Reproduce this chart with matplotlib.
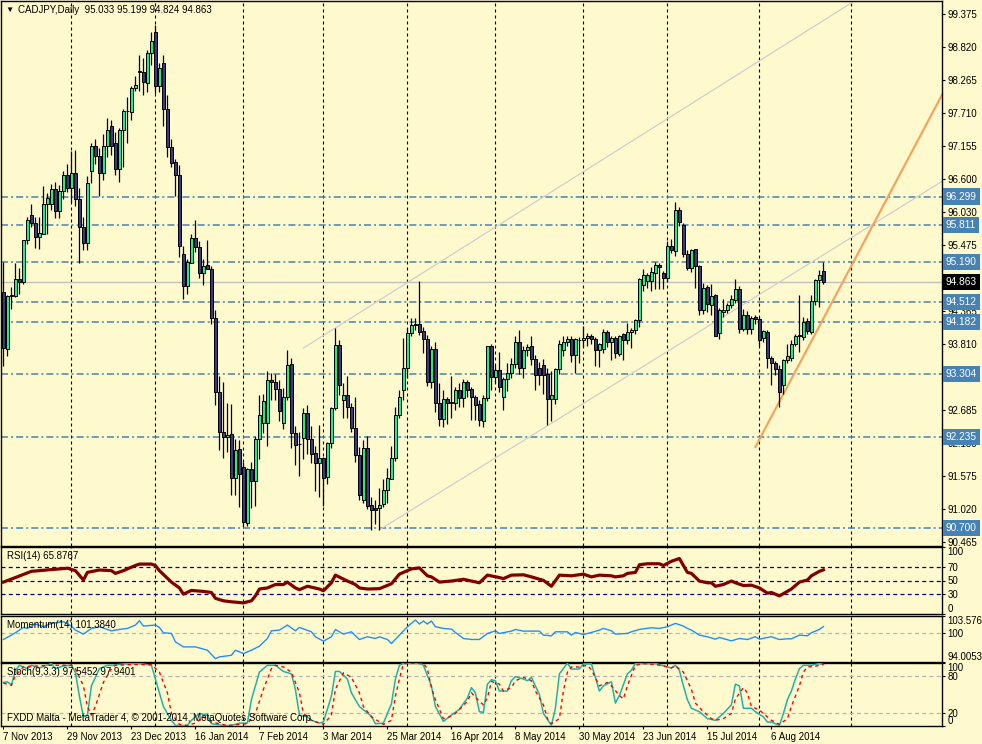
import numpy as np
import matplotlib
matplotlib.use("Agg")
import matplotlib.pyplot as plt
from matplotlib.transforms import blended_transform_factory as btf

plt.rcParams['font.family'] = ['Liberation Sans', 'DejaVu Sans']
plt.rcParams['font.size'] = 7

# ---------------- data ----------------
opens = [94.68,93.72,94.62,94.62,94.91,94.86,95.56,95.99,95.86,95.62,95.67,96.17,96.17,96.42,96.06,96.40,96.67,96.45,96.69,96.26,
         95.79,95.51,96.73,97.16,96.98,96.70,97.15,97.49,97.21,96.76,97.43,97.74,97.73,98.13,98.40,98.41,98.22,98.72,99.07,98.17,
         98.55,97.77,97.14,96.88,96.66,95.32,94.78,95.18,95.60,95.45,95.01,95.14,95.08,94.25,92.99,92.32,92.23,92.28,91.54,92.04,
         91.73,90.79,91.70,91.49,92.20,92.47,92.47,93.20,93.17,93.05,92.47,92.92,93.47,92.31,92.12,92.22,92.64,92.20,91.97,91.80,
         91.88,91.56,92.13,92.72,93.79,92.87,92.95,92.74,92.39,91.94,91.18,92.05,91.09,91.04,91.04,91.11,91.34,91.53,91.88,92.61,
         93.03,93.40,93.99,94.13,94.15,94.02,93.90,93.17,93.72,92.81,92.54,92.88,92.81,92.81,93.03,92.89,93.16,93.04,92.92,92.80,
         92.50,92.89,93.77,93.25,93.37,92.92,93.21,93.32,93.47,93.84,93.41,93.71,93.77,93.55,93.40,93.46,93.30,92.88,92.88,93.38,
         93.71,93.84,93.89,93.62,93.88,93.87,93.91,93.95,93.90,93.70,93.73,94.01,93.85,93.91,93.64,93.98,93.87,94.01,94.04,94.21,
         94.81,94.87,94.87,95.01,95.15,95.00,94.93,95.47,95.38,96.08,95.81,95.32,95.10,95.41,95.12,94.38,94.77,94.47,94.63,94.00,
         94.35,94.39,94.46,94.55,94.73,94.06,94.30,94.06,94.26,94.23,93.91,94.01,93.57,93.49,93.38,93.12,93.54,93.57,93.81,93.96,
         93.93,94.19,94.01,94.54,94.89,95.033]
highs = [95.19,94.63,94.77,95.18,95.09,95.57,95.96,96.17,95.95,95.95,96.47,96.36,96.51,96.54,96.50,96.73,96.85,97.06,97.09,96.44,
         95.96,96.64,97.21,97.27,97.12,97.36,97.62,97.60,97.39,97.46,97.77,97.98,98.17,98.33,98.69,98.64,98.78,99.08,99.20,98.55,
         98.69,98.01,97.27,96.94,96.83,95.46,95.25,95.67,95.90,95.54,95.25,95.57,95.13,94.38,93.26,93.17,92.81,92.80,92.21,92.19,
         91.81,91.72,91.81,92.25,92.95,92.97,93.36,93.31,93.30,93.20,93.06,93.71,93.57,92.42,92.33,92.72,92.78,92.42,92.08,92.44,
         91.90,92.16,92.75,94.07,93.88,93.15,93.26,92.81,92.91,92.07,92.19,92.25,91.23,91.18,91.38,91.52,91.71,92.08,92.74,93.03,
         93.91,94.07,94.24,94.24,94.87,94.10,93.96,93.78,93.85,93.15,93.03,92.92,93.26,93.09,93.15,93.21,93.20,93.09,92.95,92.86,
         92.95,93.78,93.80,93.45,93.68,93.25,93.49,93.57,93.94,94.05,93.78,93.80,93.95,93.62,93.50,93.55,93.40,93.35,93.40,93.87,
         93.95,93.95,93.95,93.91,93.92,94.12,93.99,93.98,93.93,93.82,94.06,94.05,93.94,93.94,93.96,93.99,94.17,94.08,94.23,94.93,
         95.08,95.01,95.11,95.19,95.17,95.04,95.55,95.58,96.21,96.13,95.86,95.40,95.41,95.42,95.15,94.84,94.81,94.83,94.66,94.42,
         94.56,94.50,94.63,94.90,94.79,94.40,94.36,94.28,94.30,94.26,94.05,94.04,93.60,93.52,93.45,93.55,93.80,93.88,93.98,94.64,
         94.27,94.25,94.64,94.90,95.06,95.199]
lows = [93.43,93.61,94.40,94.60,94.66,94.83,95.50,95.78,95.43,95.41,95.66,95.67,96.08,95.93,95.93,96.26,96.38,96.21,96.14,95.18,
        95.40,95.40,96.52,96.85,96.31,96.58,96.97,97.00,96.67,96.54,96.79,97.20,97.59,98.09,98.09,98.01,98.07,98.52,98.04,98.07,
        97.49,96.97,96.79,96.31,95.28,94.56,94.65,95.17,95.37,94.92,94.80,95.07,94.15,92.78,92.01,91.89,91.98,91.26,91.26,91.06,
        90.73,90.74,91.04,91.07,91.86,92.30,92.08,92.87,92.87,92.50,92.38,92.87,92.05,91.77,91.57,91.86,91.95,91.80,91.32,91.22,
        91.07,91.45,92.05,92.70,92.95,92.56,92.56,92.33,91.82,91.18,91.13,91.02,90.67,90.77,90.67,91.05,91.12,91.52,91.84,92.55,
        92.87,93.23,93.95,94.05,93.96,93.65,93.10,93.06,92.66,92.42,92.40,92.45,92.56,92.70,92.75,92.75,92.92,92.52,92.52,92.42,
        92.41,92.85,93.03,93.15,93.00,92.69,93.01,93.23,93.40,93.30,93.23,93.60,93.45,93.03,93.12,92.97,92.44,92.50,92.80,93.30,
        93.60,93.78,93.51,93.32,93.49,93.75,93.78,93.80,93.43,93.42,93.65,93.75,93.54,93.57,93.60,93.54,93.80,93.74,93.98,94.10,
        94.70,94.75,94.70,94.73,94.74,94.74,94.85,95.35,95.30,95.80,95.28,95.05,95.02,94.75,94.30,94.32,94.35,94.30,93.94,93.89,
        94.27,94.33,94.42,94.50,94.00,94.03,93.98,93.98,94.15,93.77,93.85,93.40,93.12,93.29,92.74,92.96,93.48,93.52,93.78,93.67,
        93.88,93.98,93.98,94.47,94.43,94.824]
closes = [93.74,94.62,94.63,94.91,94.85,95.56,95.91,95.85,95.62,95.69,96.17,96.27,96.42,96.06,96.40,96.67,96.44,96.69,96.25,95.79,
          95.51,96.52,97.15,96.98,96.70,97.15,97.42,97.15,96.76,97.42,97.74,97.75,98.13,98.19,98.42,98.23,98.72,98.93,98.16,98.47,
          97.77,97.14,96.87,96.66,95.46,94.79,95.19,95.60,95.45,95.01,95.12,95.08,94.25,92.99,92.32,92.23,92.27,91.54,92.02,91.62,
          90.80,91.70,91.49,92.20,92.61,92.85,93.20,93.17,93.04,92.67,92.91,93.46,92.31,92.11,92.12,92.64,92.20,91.95,91.80,91.88,
          91.55,92.13,92.72,93.79,93.12,92.95,92.74,92.39,91.93,91.26,92.05,91.07,91.01,91.00,91.09,91.34,91.54,91.88,92.61,92.92,
          93.40,93.99,94.13,94.15,94.01,93.90,93.17,93.72,92.81,92.54,92.88,92.81,92.82,93.03,92.89,93.16,93.03,92.92,92.78,92.52,
          92.89,93.77,93.25,93.37,93.08,93.22,93.32,93.47,93.84,93.41,93.71,93.76,93.55,93.29,93.29,93.29,92.88,92.95,93.38,93.81,
          93.85,93.89,93.63,93.89,93.88,93.91,93.95,93.89,93.70,93.80,94.01,93.85,93.91,93.66,93.94,93.87,94.01,94.05,94.21,94.91,
          94.97,94.97,95.02,95.15,95.11,94.93,95.47,95.40,96.08,95.87,95.32,95.10,95.40,95.12,94.38,94.76,94.49,94.62,93.95,94.39,
          94.39,94.47,94.56,94.73,94.06,94.30,94.06,94.25,94.23,93.87,94.02,93.57,93.49,93.38,93.00,93.54,93.60,93.81,93.95,93.94,
          94.18,94.02,94.54,94.89,94.97,94.863]

date_idx = [0, 16, 32, 48, 64, 80, 96, 112, 128, 144, 160, 176, 192]
date_lbl = ['7 Nov 2013', '29 Nov 2013', '23 Dec 2013', '16 Jan 2014', '7 Feb 2014', '3 Mar 2014',
            '25 Mar 2014', '16 Apr 2014', '8 May 2014', '30 May 2014', '23 Jun 2014', '15 Jul 2014', '6 Aug 2014']
grid_idx = [17, 38, 60, 80, 101, 123, 145, 166, 189, 212]

price_ticks = [99.375, 98.820, 98.265, 97.710, 97.155, 96.600, 96.030, 95.475, 94.920, 94.365,
               93.810, 93.255, 92.685, 92.130, 91.575, 91.020, 90.465]
levels = [96.299, 95.811, 95.190, 94.512, 94.182, 93.304, 92.235, 90.700]
last_price = 94.863

# trendline anchors (bar index, price)
chan_up = ([75, 212], [93.74, 99.57])
chan_lo = ([94, 230], [90.67, 96.36])
orange_tl = ([188, 234.6], [92.07, 98.01])

rsi_idx = [0,3,7,9,12,16,18,20,21,24,27,28,30,31,33,34,37,38,39,42,44,45,47,50,52,53,55,57,60,62,63,64,66,68,70,71,73,74,76,79,80,82,83,86,88,89,91,
           94,97,99,102,104,106,107,109,112,115,117,119,121,124,125,127,130,132,135,137,139,142,145,147,
           149,152,153,155,156,158,159,161,164,165,167,169,170,171,172,174,176,177,178,180,182,183,185,187,189,191,192,194,197,199,201,202,204,205]
rsi_val = [47.6,54.4,63.7,64.7,66.3,68.3,64.7,50.7,62.1,65.7,64.7,60.6,64.7,67.3,72.4,74.5,74.5,72.4,64.7,47.6,38.9,29.6,35.2,33.7,32.1,23.4,19.7,18.2,16.6,19.7,27.0,37.3,38.9,44.0,44.0,47.6,38.9,36.3,41.4,37.3,34.7,46.6,58.0,49.2,44.0,38.9,37.3,
           37.8,45.1,59.5,67.3,68.8,57.0,55.4,47.6,49.2,51.8,49.2,46.6,58.0,54.4,52.8,58.0,58.5,55.4,50.2,41.4,58.0,57.0,59.5,55.4,
           58.0,57.0,55.4,57.0,60.6,62.1,73.5,75.0,75.0,72.4,78.7,82.8,72.4,62.1,60.6,49.2,46.6,46.6,41.4,44.0,49.2,46.6,42.5,43.0,38.9,31.1,32.1,27.0,37.3,47.6,50.7,57.0,63.7,65.88]

mom_idx = [0,2,3,5,6,8,10,12,15,17,18,20,22,24,27,29,31,33,34,35,38,39,40,42,43,45,48,51,53,54,57,58,60,62,64,66,67,69,71,73,74,77,78,80,82,83,85,87,89,91,93,
           94,96,97,99,101,103,104,105,106,107,108,110,112,113,115,117,119,121,123,124,127,128,130,132,134,135,137,138,141,142,143,145,147,
           149,150,152,153,156,157,159,162,164,166,168,170,171,172,174,176,178,179,182,184,186,188,189,191,192,194,196,197,199,201,202,204,205]
mom_val = [98.69,99.60,100.09,101.20,100.99,101.90,101.34,102.04,102.39,101.48,100.64,99.81,100.99,101.34,100.50,100.78,100.99,101.69,102.60,101.48,101.69,101.20,100.09,99.95,98.20,97.15,97.15,96.46,94.71,95.06,95.41,96.46,95.76,96.46,97.29,98.90,100.50,100.64,101.69,100.50,101.20,100.29,99.25,98.34,99.25,100.78,99.81,100.29,98.69,99.25,98.90,
           99.24,98.69,97.85,99.59,101.34,102.74,101.90,102.53,101.90,102.53,101.34,100.99,100.85,100.15,98.90,98.69,98.69,99.94,100.50,99.94,100.43,100.78,100.43,100.43,100.43,99.59,99.45,100.29,100.29,99.59,100.15,99.73,100.15,
           100.64,100.99,100.50,99.81,99.95,100.29,100.78,101.13,100.99,101.34,102.04,101.48,100.99,100.64,99.60,99.25,98.76,99.11,98.41,98.90,98.69,99.25,98.76,99.11,99.25,98.69,98.83,98.83,99.60,99.46,100.09,100.78,101.38]

k_idx = [0,1,2,3,4,6,7,9,12,13,15,17,18,19,20,21,22,24,26,27,31,34,37,38,40,42,43,46,47,49,51,52,55,57,59,61,62,64,66,68,70,72,73,74,76,77,79,80,82,83,84,86,87,89,92,93,95,97,98,99,
         100,102,104,105,106,107,108,110,112,114,116,117,118,119,120,121,122,123,124,126,127,128,130,131,132,134,135,137,138,139,141,142,144,145,147,148,
         149,150,152,153,154,156,157,158,160,163,164,166,167,168,169,170,171,172,174,176,178,179,180,182,183,184,185,187,188,190,191,192,194,195,196,197,198,199,200,202,204,205]
k_val = [69.1,70.2,64.8,88.3,96.4,91.0,96.4,92.1,99.2,91.0,95.4,96.4,85.5,47.3,14.5,17.2,63.7,91.0,96.4,96.4,99.2,99.2,96.4,74.6,30.9,9.0,0.8,0.8,9.0,19.9,17.2,3.6,0.8,0.8,4.6,4.6,41.8,85.5,96.4,96.4,86.6,82.8,58.2,17.2,14.5,9.0,4.6,6.3,47.3,86.6,86.6,74.6,52.7,30.9,15.6,3.6,4.6,35.0,74.6,96.4,
         99.5,99.7,99.7,96.4,80.0,63.7,30.9,7.4,17.2,26.5,44.5,60.9,52.7,22.7,21.6,66.4,73.5,71.9,55.5,55.5,71.9,78.4,74.6,71.9,77.3,50.0,20.0,0.8,28.1,82.8,99.7,90.4,90.4,98.6,98.6,77.3,
         55.5,63.7,70.2,36.3,48.4,82.8,88.3,99.5,99.2,99.2,97.5,93.7,92.1,96.4,88.3,63.7,41.8,28.1,22.7,11.7,9.0,14.5,19.9,33.6,66.4,63.7,28.1,28.1,22.7,14.5,6.3,6.3,0.8,19.9,41.8,55.5,74.6,91.0,96.4,96.4,99.2,97.55]

d_idx = [0,2,3,5,7,12,17,18,20,21,22,23,25,27,28,32,37,39,41,42,44,46,48,50,52,56,59,61,63,65,67,68,70,72,74,75,77,80,82,83,85,87,89,90,92,95,97,98,99,
         100,102,105,106,107,108,110,111,113,116,117,119,120,121,122,124,125,127,128,130,132,133,135,136,137,139,140,141,142,144,146,147,
         149,151,152,154,155,156,157,158,160,163,165,167,168,170,172,173,175,177,178,180,182,183,185,186,187,189,190,192,194,196,197,199,200,201,203,205]
d_val = [68.0,64.8,80.1,93.7,94.8,96.4,96.4,91.0,63.7,30.9,17.2,30.9,69.1,91.0,96.4,97.5,97.5,85.5,52.7,19.9,2.5,0.8,4.6,14.5,6.3,0.8,2.5,3.6,19.9,58.2,91.0,96.4,93.7,85.5,52.7,19.9,9.0,2.5,17.2,58.2,84.4,77.3,52.7,30.9,14.5,2.5,9.0,47.3,74.6,
         99.2,99.5,99.2,91.0,60.9,41.8,11.7,12.8,19.9,39.1,52.7,39.1,33.6,44.5,70.8,66.4,55.5,60.9,71.9,77.3,71.9,55.5,33.6,11.7,3.6,11.7,55.5,85.5,93.7,93.7,96.4,89.3,
         63.7,69.1,63.7,48.4,42.9,63.7,80.1,96.4,99.2,97.5,95.4,92.1,95.4,85.5,58.2,36.3,22.7,11.7,9.0,11.7,19.9,42.9,60.9,52.7,30.9,25.4,19.9,9.0,2.5,11.7,30.9,63.7,85.5,93.7,94.8,97.94]

# ---------------- styling ----------------
BG = '#FFFACD'
BULL = '#22EC88'
BEAR = '#3A3A78'
LEVEL = '#4682B4'

W, H = 982, 744
fig = plt.figure(figsize=(W / 100, H / 100), dpi=100, facecolor=BG)
XL = (-0.6, 234.65)


def panel(top, bottom):
    ax = fig.add_axes([1 / W, 1 - bottom / H, 941 / W, (bottom - top) / H])
    ax.set_facecolor(BG)
    for s in ax.spines.values():
        s.set_color('black')
        s.set_linewidth(1.0)
    ax.set_xlim(*XL)
    ax.yaxis.tick_right()
    ax.tick_params(axis='y', direction='out', length=2.5, width=0.8, pad=1.5,
                   labelsize=7, colors='black')
    ax.tick_params(axis='x', bottom=False, labelbottom=False)
    for g in grid_idx:
        ax.axvline(g, color='black', lw=0.8, ls=(0, (2.7, 2.7)), zorder=1)
    return ax


# ---- main price panel ----
ax = panel(1, 546)
ax.set_ylim(90.396, 99.602)
ax.set_yticks(price_ticks)
ax.set_yticklabels(['%.3f' % v for v in price_ticks])

for v in levels:
    ax.axhline(v, color=LEVEL, lw=1.1, ls=(0, (4.6, 2.0, 1.3, 2.0)), zorder=2)
ax.axhline(last_price, color='#C0C0C0', lw=1.0, zorder=2)


def ray(anchor, color, lw):
    (x1, x2), (y1, y2) = anchor
    s = (y2 - y1) / (x2 - x1)
    ax.plot([x1, XL[1]], [y1, y1 + s * (XL[1] - x1)], color=color, lw=lw, zorder=2.5)


ray(chan_up, '#CFCFCF', 0.9)
ray(chan_lo, '#CFCFCF', 0.9)
ray(orange_tl, '#F4A460', 1.6)

o, h, l, c = map(np.asarray, (opens, highs, lows, closes))
x = np.arange(len(o))
up = c >= o
ax.vlines(x, l, h, color='black', lw=0.9, zorder=3)
ax.bar(x[up], (c - o)[up], bottom=o[up], width=0.62, color=BULL, edgecolor='black',
       linewidth=0.7, zorder=4)
ax.bar(x[~up], (o - c)[~up], bottom=c[~up], width=0.62, color=BEAR, edgecolor='black',
       linewidth=0.7, zorder=4)

tr = btf(ax.transAxes, ax.transData)
for v in levels:
    ax.text(1.004, v, '%.3f' % v, transform=tr, ha='left', va='center', color='white',
            fontsize=7.3, zorder=10, clip_on=False,
            bbox=dict(boxstyle='square,pad=0.3', fc=LEVEL, ec='none'))
ax.text(1.004, last_price, '%.3f' % last_price, transform=tr, ha='left', va='center',
        color='white', fontsize=7.3, zorder=10, clip_on=False,
        bbox=dict(boxstyle='square,pad=0.3', fc='black', ec='none'))

# ---- RSI ----
ar = panel(547, 614)
ar.set_ylim(0, 100)
for v in (70, 50, 30):
    ar.axhline(v, color='#00008B', lw=0.9, ls=(0, (3.2, 2.6)), zorder=1)
ar.plot(rsi_idx, rsi_val, color='#800000', lw=2.3, zorder=3)
ar.set_yticks([100, 70, 50, 30, 0])
ar.set_yticklabels(['100', '70', '50', '30', '0'])

# ---- Momentum ----
am = panel(616, 662)
am.set_ylim(94.0053, 103.576)
am.axhline(100, color='#B4B4B4', lw=0.9, ls=(0, (3.2, 2.6)), zorder=1)
am.plot(mom_idx, mom_val, color='#1E90FF', lw=1.0, zorder=3)
am.set_yticks([103.576, 100, 94.0053])
am.set_yticklabels(['103.576', '100', '94.0053'])

# ---- Stochastic ----
ast = panel(663, 726)
ast.set_ylim(0, 100)
for v in (80, 20):
    ast.axhline(v, color='#B4B4B4', lw=0.9, ls=(0, (3.2, 2.6)), zorder=1)
ast.plot(k_idx, k_val, color='#20B2AA', lw=1.1, zorder=3)
ast.plot(d_idx, d_val, color='#FF0000', lw=1.0, ls=(0, (2.5, 2.5)), zorder=3)
ast.set_yticks([100, 80, 20, 0])
ast.set_yticklabels(['100', '80', '20', '0'])

for a in (ar, am, ast):
    labs = a.get_yticklabels()
    labs[0].set_va('top')
    labs[-1].set_va('bottom')

ast.tick_params(axis='x', bottom=True, labelbottom=True, direction='out', length=2.5,
                width=0.8, pad=2, labelsize=7)
ast.set_xticks(date_idx)
ast.set_xticklabels(date_lbl, ha='left')


def ptext(px, py, s, size=7):
    fig.text(px / W, 1 - py / H, s, va='center', ha='left', fontsize=size, color='black')


ptext(5, 10, '\u25BC', size=6)
ptext(18, 10, 'CADJPY,Daily  95.033 95.199 94.824 94.863')
ptext(7, 556, 'RSI(14) 65.8767')
ptext(7, 625, 'Momentum(14) 101.3840')
ptext(7, 672, 'Stoch(9,3,3) 97.5452 97.9401')
ptext(7, 718, 'FXDD Malta - MetaTrader 4, \u00A9 2001-2014, MetaQuotes Software Corp.')

fig.savefig('out.png', dpi=100, facecolor=BG)
